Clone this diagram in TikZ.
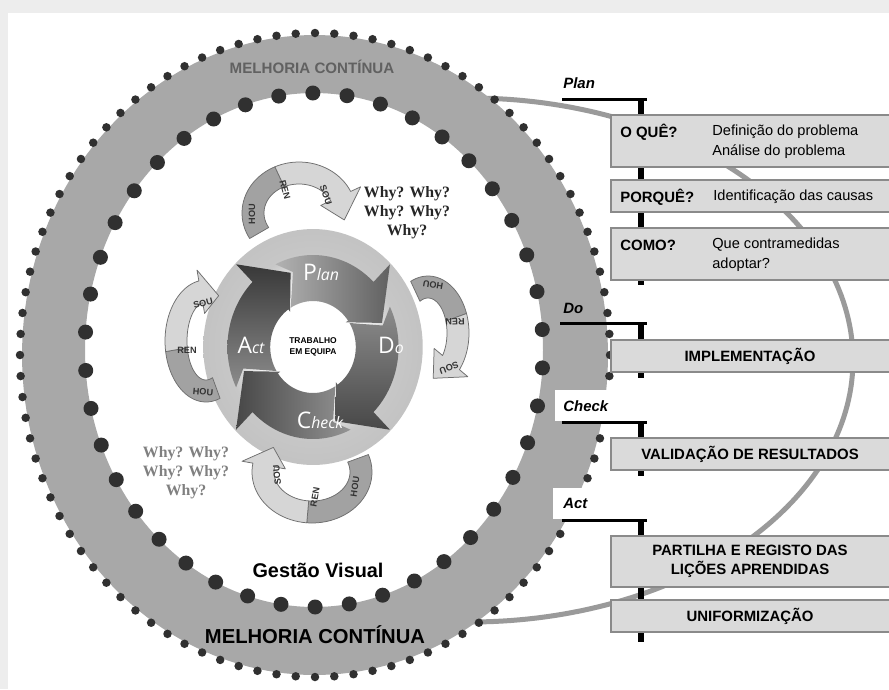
\documentclass[tikz,border=0pt]{standalone}
\usepackage{fontspec}
\setmainfont{Liberation Sans}
\newfontfamily\whyfont{Liberation Serif}
\newfontfamily\wheelfont{Open Sans}
\definecolor{bandgray}{HTML}{A8A8A8}
\definecolor{dotgray}{HTML}{303030}
\definecolor{boxfill}{HTML}{DADADA}
\definecolor{boxline}{HTML}{8A8A8A}
\definecolor{arcgray}{HTML}{9A9A9A}
\definecolor{ribdark}{HTML}{A2A2A2}
\definecolor{riblight}{HTML}{D6D6D6}
\definecolor{ribline}{HTML}{6E6E6E}
\definecolor{pagegray}{HTML}{EDEDED}

\pgfdeclareradialshading{wheelhalo}{\pgfpoint{0bp}{0bp}}{color(0bp)=(white); color(11bp)=(white); color(19.5bp)=(black!22); color(39bp)=(black!28); color(42bp)=(black!12); color(46bp)=(black!3); color(50bp)=(white)}
\pgfdeclareradialshading{ringglow}{\pgfpoint{0bp}{0bp}}{color(0bp)=(white); color(31.5bp)=(white); color(33bp)=(black!22); color(38.5bp)=(black!22); color(50bp)=(white)}

\tikzset{
  ribstyle/.style={draw=ribline, line width=0.15mm, line join=round},
  riblab/.style={font=\bfseries\fontsize{5.2}{6}\selectfont, text=black!80, inner sep=0pt},
  whytext/.style={font=\whyfont\bfseries\fontsize{9}{10.8}\selectfont, align=center, inner sep=0pt},
  boxst/.style={draw=boxline, fill=boxfill, line width=0.25mm},
  boxcap/.style={font=\bfseries\fontsize{8.5}{11}\selectfont, align=center},
  boxkey/.style={font=\bfseries\fontsize{8.5}{11}\selectfont, anchor=west, inner sep=0pt},
  boxdesc/.style={font=\fontsize{8.3}{11.4}\selectfont, anchor=west, align=left, inner sep=0pt},
  phaselab/.style={font=\bfseries\itshape\fontsize{8.5}{10}\selectfont, anchor=west, inner sep=0pt},
  phaseh/.style={line width=0.6mm, black},
  phasev/.style={line width=1.2mm, black},
  plansh/.style={left color=black!30, right color=black!62},
  dosh/.style={top color=black!45, bottom color=black!72},
  checksh/.style={right color=black!42, left color=black!72},
  actsh/.style={bottom color=black!45, top color=black!78},
  wlab/.style={text=white, inner sep=0pt},
}

% ribbon arrow: cx cy rx ry a0 split a1 tip  (angles clockwise in image)
\newcommand\ribbon[8]{%
 \begin{scope}[shift={(#1,#2)}]
  \pgfmathsetmacro\rxo{#3+11}\pgfmathsetmacro\ryo{#4+11}%
  \pgfmathsetmacro\rxi{#3-11}\pgfmathsetmacro\ryi{#4-11}%
  \pgfmathsetmacro\rxh{#3+22}\pgfmathsetmacro\ryh{#4+22}%
  \pgfmathsetmacro\rxk{#3-22}\pgfmathsetmacro\ryk{#4-22}%
  \filldraw[ribstyle, fill=ribdark] plot[domain=#5:#6,samples=25] ({\rxo*cos(\x)},{\ryo*sin(\x)}) -- plot[domain=#6:#5,samples=25] ({\rxi*cos(\x)},{\ryi*sin(\x)}) -- cycle;
  \filldraw[ribstyle, fill=riblight] plot[domain=#6:#7,samples=25] ({\rxo*cos(\x)},{\ryo*sin(\x)}) -- ({\rxh*cos(#7)},{\ryh*sin(#7)}) -- ({#3*cos(#8)},{#4*sin(#8)}) -- ({\rxk*cos(#7)},{\ryk*sin(#7)}) -- plot[domain=#7:#6,samples=25] ({\rxi*cos(\x)},{\ryi*sin(\x)}) -- cycle;
 \end{scope}}

% PDCA arrow: #1 end angle of body, #2 shading style
\newcommand\pdcaarrow[2]{%
  \pgfmathsetmacro\aA{#1-71}%
  \pgfmathsetmacro\aB{#1-76.5}%
  \pgfmathsetmacro\aC{#1-61}%
  \pgfmathsetmacro\aD{#1+10}%
  \pgfmathsetmacro\aE{#1+27}%
  \shade[#2] plot[domain=\aA:#1,samples=30] ({0.93*92*cos(\x)},{92*sin(\x)}) -- ({0.93*117*cos(#1)},{117*sin(#1)}) -- ({0.93*78*cos(\aE)},{78*sin(\aE)}) -- ({0.93*43*cos(\aD)},{43*sin(\aD)}) -- plot[domain=\aD:\aB,samples=30] ({0.93*46*cos(\x)},{46*sin(\x)}) -- ({0.93*78*cos(\aC)},{78*sin(\aC)}) -- cycle;}

\begin{document}
\begin{tikzpicture}[x=0.2mm,y=-0.2mm]
\useasboundingbox (0,0) rectangle (889,689);
% page
\fill[pagegray] (0,0) rectangle (889,689);
\fill[white] (8,13) rectangle (889,689);

% glow to the right of the ring, inside the big arc
\begin{scope}
  \clip plot[domain=-90:90,samples=100] ({470+383*cos(\x)},{360+262*sin(\x)}) -- cycle;
  \shade[shading=ringglow] plot[domain=0:360,samples=120] ({315+385*cos(\x)},{355+412*sin(\x)}) -- cycle;
\end{scope}

% big connector arc
\draw[arcgray, line width=1mm] plot[domain=-95:92,samples=140] ({470+383*cos(\x)},{360+262*sin(\x)});

% ring band
\fill[bandgray, even odd rule]
  plot[domain=0:360,samples=200] ({315+293*cos(\x)},{355+320*sin(\x)}) -- cycle
  plot[domain=0:360,samples=200] ({314+229*cos(\x)},{350+257*sin(\x)}) -- cycle;
\foreach \i in {0,...,95}
  \fill[dotgray] ({315+295*cos(\i*3.75)},{355+322*sin(\i*3.75)}) circle[radius=0.85mm];
\foreach \i in {0,...,41}
  \fill[dotgray] ({314+229*cos(\i*360/42+4)},{350+257*sin(\i*360/42+4)}) circle[radius=1.5mm];

\node[font=\bfseries\fontsize{8.6}{10}\selectfont, text=black!62] (mctop) at (312,67) {MELHORIA CONTÍNUA};
\node[font=\bfseries\fontsize{11.5}{13}\selectfont] (mcbot) at (315,635) {MELHORIA CONTÍNUA};
\node[font=\bfseries\fontsize{11.3}{13}\selectfont] (gv) at (318,570) {Gestão Visual};

% PDCA wheel
\shade[shading=wheelhalo] plot[domain=0:360,samples=100] ({313+0.93*118*cos(\x)},{347+118*sin(\x)}) -- cycle;
\begin{scope}[shift={(313,347)}]
  \pdcaarrow{-45}{plansh}
  \pdcaarrow{45}{dosh}
  \pdcaarrow{135}{checksh}
  \pdcaarrow{225}{actsh}
\end{scope}
\node[wlab] (plan) at (321,272) {\wheelfont{\fontsize{13}{14}\selectfont P}{\fontsize{9}{10}\selectfont\itshape lan}};
\node[wlab] (do) at (391,345) {\wheelfont{\fontsize{13}{14}\selectfont D}{\fontsize{9}{10}\selectfont\itshape o}};
\node[wlab] (check) at (320,420) {\wheelfont{\fontsize{13}{14}\selectfont C}{\fontsize{9}{10}\selectfont\itshape heck}};
\node[wlab] (act) at (251,345) {\wheelfont{\fontsize{13}{14}\selectfont A}{\fontsize{9}{10}\selectfont\itshape ct}};
\node[font=\bfseries\fontsize{4.8}{6}\selectfont, align=center, inner sep=0pt] (team) at (313,347) {TRABALHO\\EM EQUIPA};

% ribbon arrows
\ribbon{299}{213}{46}{40}{150}{245}{335}{370}
\ribbon{428}{333}{30}{46}{245}{340}{400}{440}
\ribbon{312}{472}{49}{40}{-20}{95}{190}{218}
\ribbon{206}{341}{30}{50}{70}{170}{260}{295}

\node[riblab, rotate=90] (t1) at (252,214) {HOU};
\node[riblab, rotate=-75] (t2) at (285,190) {REN};
\node[riblab, rotate=-70] (t3) at (326,195) {SOU};
\node[riblab, rotate=170] (r1) at (433,285) {HOU};
\node[riblab, rotate=182] (r2) at (455,322) {REN};
\node[riblab, rotate=200] (r3) at (449,368) {SOU};
\node[riblab, rotate=95] (b1) at (277,475) {SOU};
\node[riblab, rotate=80] (b2) at (315,497) {REN};
\node[riblab, rotate=82] (b3) at (355,487) {HOU};
\node[riblab, rotate=15] (l1) at (203,303) {SOU};
\node[riblab] (l2) at (187,350) {REN};
\node[riblab, rotate=-5] (l3) at (203,392) {HOU};

\node[whytext, text=black!85] (whytop) at (407,213) {Why? Why?\\Why? Why?\\Why?};
\node[whytext, text=black!50] (whybot) at (186,473) {Why? Why?\\Why? Why?\\Why?};

% phase lines
\coordinate (pv1a) at (640.5,99);  \coordinate (pv1b) at (640.5,285);
\coordinate (pv2a) at (640.5,323); \coordinate (pv2b) at (640.5,378);
\coordinate (pv3a) at (640.5,422); \coordinate (pv3b) at (640.5,476);
\coordinate (pv4a) at (640.5,520); \coordinate (pv4b) at (640.5,642);
\draw[phasev] (pv1a) -- (pv1b);
\draw[phasev] (pv2a) -- (pv2b);
\draw[phasev] (pv3a) -- (pv3b);
\draw[phasev] (pv4a) -- (pv4b);
\fill[white] (555,390) rectangle (617,421);
\fill[white] (553,488) rectangle (596,519);
\coordinate (ph1) at (562,99);  \coordinate (ph2) at (560,323);
\coordinate (ph3) at (562,422); \coordinate (ph4) at (562,520);
\draw[phaseh] (ph1) -- (647,99);
\draw[phaseh] (ph2) -- (647,323);
\draw[phaseh] (ph3) -- (647,422);
\draw[phaseh] (ph4) -- (647,520);
\node[phaselab] (lplan) at (563,83) {Plan};
\node[phaselab] (ldo) at (563,308) {Do};
\node[phaselab] (lcheck) at (563,406) {Check};
\node[phaselab] (lact) at (563,503) {Act};

% boxes
\path[boxst] (611,115) rectangle (895,167);
\path[boxst] (611,180) rectangle (895,212);
\path[boxst] (611,228) rectangle (895,280);
\path[boxst] (611,340) rectangle (895,372);
\path[boxst] (611,438) rectangle (895,470);
\path[boxst] (611,536) rectangle (895,587);
\path[boxst] (611,600) rectangle (895,632);

\node[boxkey] (k1) at (620,132) {O QUÊ?};
\node[boxdesc] (d1) at (712,142) {Definição do problema\\Análise do problema};
\node[boxkey] (k2) at (620,197) {PORQUÊ?};
\node[boxdesc] (d2) at (713,197) {Identificação das causas};
\node[boxkey] (k3) at (620,245) {COMO?};
\node[boxdesc] (d3) at (712,255) {Que contramedidas\\adoptar?};
\node[boxcap] (c4) at (750,356) {IMPLEMENTAÇÃO};
\node[boxcap] (c5) at (750,454) {VALIDAÇÃO DE RESULTADOS};
\node[boxcap] (c6) at (750,561) {PARTILHA E REGISTO DAS\\LIÇÕES APRENDIDAS};
\node[boxcap] (c7) at (750,616) {UNIFORMIZAÇÃO};
\end{tikzpicture}
\end{document}
